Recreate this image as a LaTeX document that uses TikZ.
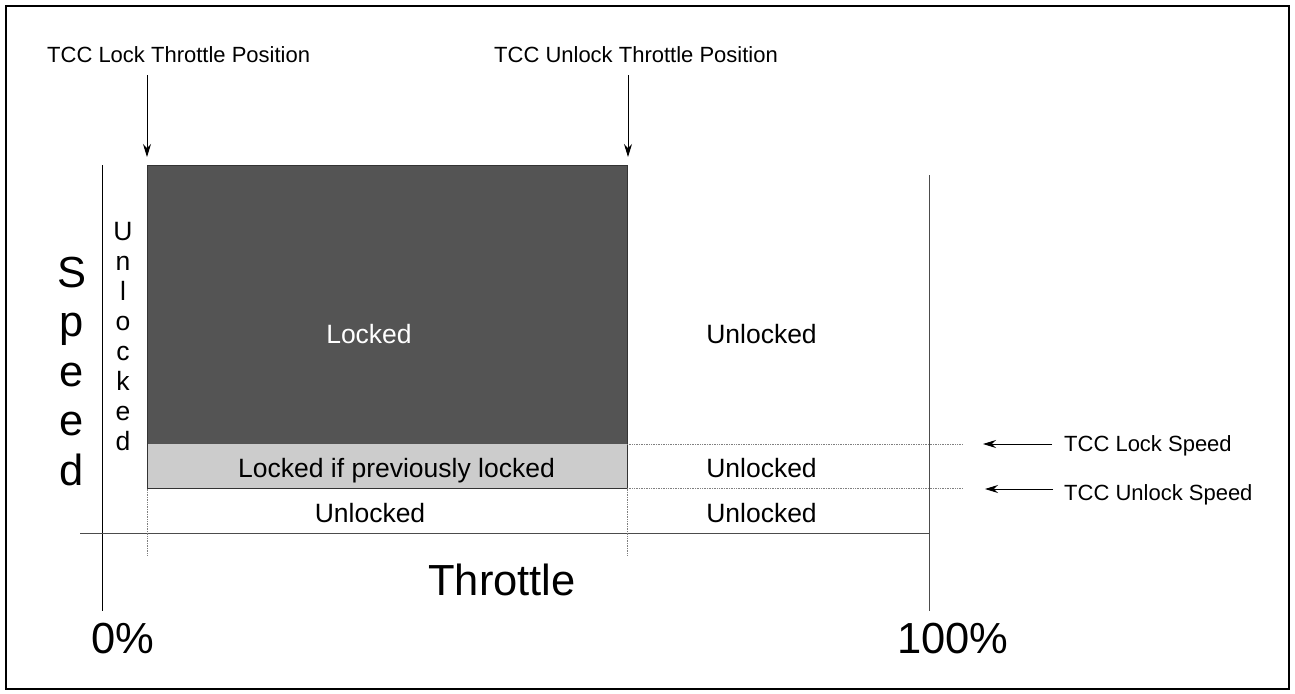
\documentclass[tikz,border=0pt]{standalone}
\usepackage{fontspec}
\setmainfont{Liberation Sans}
\usetikzlibrary{arrows.meta}
\begin{document}
\begin{tikzpicture}[x=1pt,y=-1pt,
  small/.style={font=\fontsize{22}{26}\selectfont, inner sep=0pt},
  mid/.style={font=\fontsize{26.5}{30}\selectfont, inner sep=0pt},
  big/.style={font=\fontsize{43.5}{52}\selectfont, inner sep=0pt},
  pointer/.style={-{Stealth[length=13pt,width=8pt]}, line width=0.9pt, black},
  guide/.style={densely dotted, gray, line width=0.7pt},
  axis/.style={line width=1pt, black!70}]
\useasboundingbox (0,0) rectangle (1295,693);
\draw[line width=2pt] (5.5,6.5) rectangle (1289,688.5);

% regions
\coordinate (lockTL) at (147,165);
\coordinate (lockBR) at (627,444);
\coordinate (prevTL) at (147,444);
\coordinate (prevBR) at (627,488.5);
\fill[fill=black!67] (lockTL) rectangle (lockBR);
\draw[black!80, line width=0.8pt] (lockTL) rectangle (lockBR);
\fill[fill=black!20] (prevTL) rectangle (prevBR);
\draw[black!80, line width=0.8pt] (prevTL) -- (147,488.5) -- (prevBR) -- (627,444);

% axes
\draw[line width=1pt, black] (102,165) -- (102,611);
\draw[axis] (80,533) -- (929,533);
\draw[axis] (929,175) -- (929,611);

% guides
\draw[guide] (627,444) -- (962,444);
\draw[guide] (627,488.5) -- (962,488.5);
\draw[guide] (147,488.5) -- (147,556);
\draw[guide] (627,488.5) -- (627,556);

% region labels
\node[mid, white, anchor=base] (locked) at (369,343) {Locked};
\node[mid, anchor=base] (unlockedA) at (761.5,343) {Unlocked};
\node[mid, anchor=base] (prev) at (396.5,477) {Locked if previously locked};
\node[mid, anchor=base] (unlockedB) at (761.5,477) {Unlocked};
\node[mid, anchor=base] (unlockedC) at (370,522) {Unlocked};
\node[mid, anchor=base] (unlockedD) at (761.5,522) {Unlocked};

% vertical Unlocked
\foreach \ch [count=\i from 0] in {U,n,l,o,c,k,e,d}
  \node[mid, anchor=base] (ul\i) at (123,240+30*\i) {\ch};

% Speed
\foreach \ch [count=\i from 0] in {S,p,e,e,d}
  \node[big, anchor=base] (sp\i) at (72,287+49.5*\i) {\ch};

\node[big, anchor=base] (throttle) at (502,595) {Throttle};
\node[big, anchor=base] (zero) at (122.5,653) {0\%};
\node[big, anchor=base] (hundred) at (953,653) {100\%};

% top labels and arrows
\node[small, anchor=base west] (lockpos) at (47,63) {TCC Lock Throttle Position};
\node[small, anchor=base west] (unlockpos) at (494,63) {TCC Unlock Throttle Position};
\coordinate (lockposTop) at (147,75);
\coordinate (lockposTip) at (147,157);
\coordinate (unlockposTop) at (628,75);
\coordinate (unlockposTip) at (628,157);
\draw[pointer] (lockposTop) -- (lockposTip);
\draw[pointer] (unlockposTop) -- (unlockposTip);

% speed labels and arrows
\node[small, anchor=base west] (lockspd) at (1064,451) {TCC Lock Speed};
\node[small, anchor=base west] (unlockspd) at (1064,500) {TCC Unlock Speed};
\coordinate (lockspdTail) at (1052,444);
\coordinate (lockspdTip) at (983,444);
\coordinate (unlockspdTail) at (1053,489);
\coordinate (unlockspdTip) at (985,489);
\draw[pointer] (lockspdTail) -- (lockspdTip);
\draw[pointer] (unlockspdTail) -- (unlockspdTip);
\end{tikzpicture}
\end{document}
